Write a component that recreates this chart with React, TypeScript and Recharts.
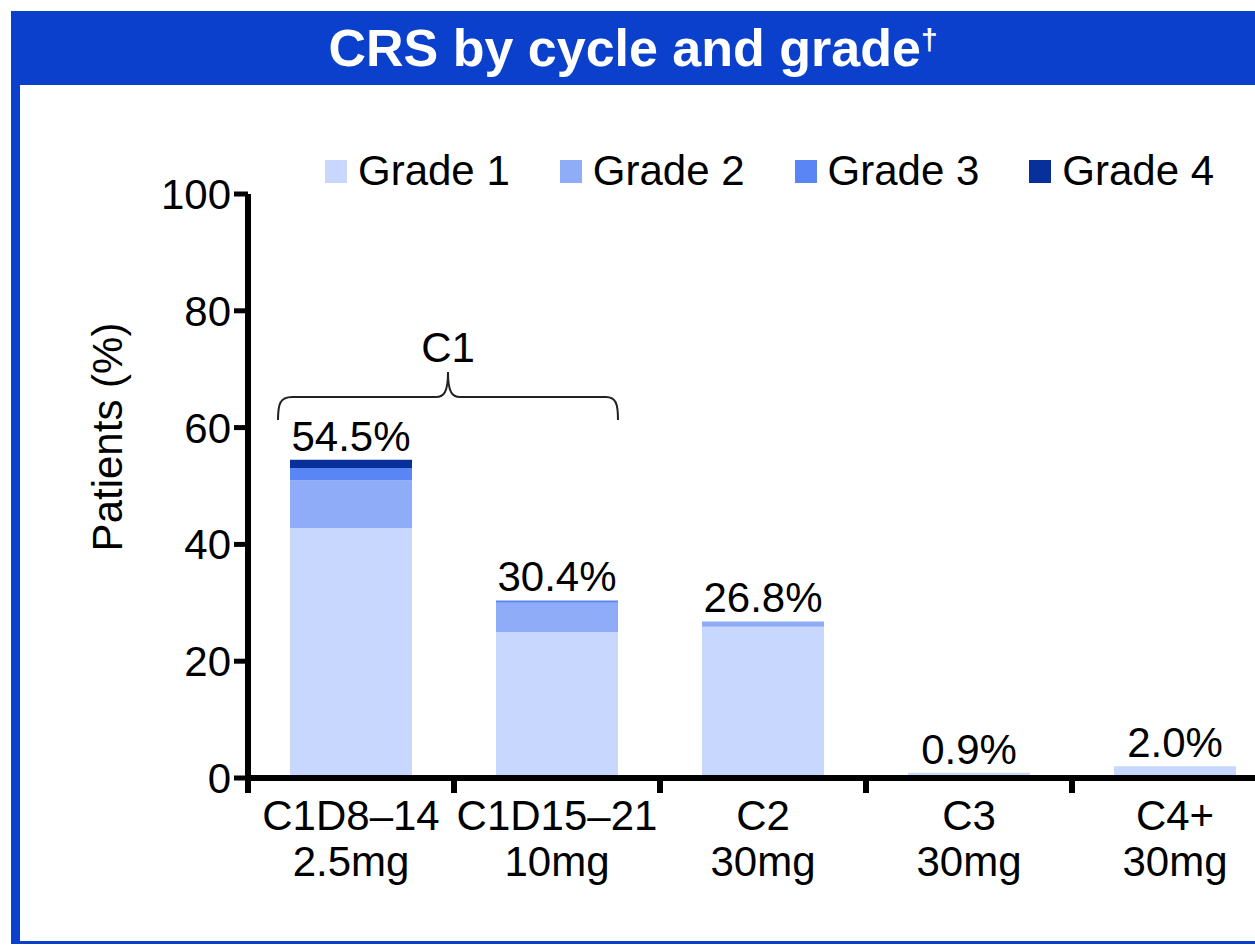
import React from "react";
import { Bar, BarChart, LabelList, XAxis, YAxis } from "recharts";

const FONT = '"Liberation Sans", Arial, sans-serif';

const cycles = ["C1D8–14", "C1D15–21", "C2", "C3", "C4+"];
const doses = ["2.5mg", "10mg", "30mg", "30mg", "30mg"];
const grade1 = [42.8, 25.0, 25.9, 0.9, 2.0];
const grade2 = [8.2, 5.0, 0.9, 0, 0];
const grade3 = [2.1, 0.4, 0, 0, 0];
const grade4 = [1.4, 0, 0, 0, 0];
const totals = [54.5, 30.4, 26.8, 0.9, 2.0];
const yTicks = [0, 20, 40, 60, 80, 100];

const grades = [
  { key: "g1", name: "Grade 1", color: "#C8D7FD" },
  { key: "g2", name: "Grade 2", color: "#8FACF8" },
  { key: "g3", name: "Grade 3", color: "#5A85F4" },
  { key: "g4", name: "Grade 4", color: "#08309A" },
];
const gradeValues = [grade1, grade2, grade3, grade4];

const rows = cycles.map((c, i) => ({
  cycle: c,
  g1: grade1[i],
  g2: grade2[i],
  g3: grade3[i],
  g4: grade4[i],
}));

// which grade is the top visible segment of each bar (gets the total label)
const topGrade = cycles.map((_, i) => {
  let top = 0;
  gradeValues.forEach((vals, g) => {
    if (vals[i] > 0) top = g;
  });
  return top;
});

const BLUE = "#0B40CC";
const CHART_W = 1300;
const PLOT_LEFT = 248;
const PLOT_RIGHT_MARGIN = 22;
const BAND = (CHART_W - PLOT_LEFT - PLOT_RIGHT_MARGIN) / cycles.length;

function CycleTick(props: any) {
  const { x, y, payload } = props;
  return (
    <text textAnchor="middle" fontSize={42} fill="#000" fontFamily={FONT}>
      <tspan x={x} y={y + 52}>
        {payload.value}
      </tspan>
      <tspan x={x} y={y + 98}>
        {doses[payload.index]}
      </tspan>
    </text>
  );
}

function makeTotalLabel(grade: number) {
  return function TotalLabel(props: any) {
    const { x, y, width, index } = props;
    if (topGrade[index] !== grade) return null;
    return (
      <text
        x={x + width / 2}
        y={y - 9}
        textAnchor="middle"
        fontSize={42}
        fill="#000"
        fontFamily={FONT}
      >
        {totals[index].toFixed(1)}%
      </text>
    );
  };
}

export default function App() {
  return (
    <div
      style={{
        position: "absolute",
        left: 0,
        top: 0,
        width: 1255,
        height: 946,
        overflow: "hidden",
        background: "#fff",
        fontFamily: FONT,
      }}
    >
      {/* frame + title bar */}
      <div
        style={{
          position: "absolute",
          left: 11,
          top: 11,
          width: 1260,
          height: 933,
          background: BLUE,
        }}
      />
      <div
        style={{
          position: "absolute",
          left: 20,
          top: 85,
          width: 1260,
          height: 856,
          background: "#fff",
        }}
      />
      <div
        style={{
          position: "absolute",
          left: 11,
          top: 11,
          width: 1244,
          height: 74,
          lineHeight: "74px",
          textAlign: "center",
          color: "#fff",
          fontWeight: "bold",
          fontSize: 52,
          whiteSpace: "nowrap",
        }}
      >
        CRS by cycle and grade
        <span style={{ fontSize: 30, position: "relative", top: -16 }}>†</span>
      </div>

      <div style={{ position: "absolute", left: 0, top: 0 }}>
        <BarChart
          width={CHART_W}
          height={946}
          data={rows}
          margin={{ top: 194, right: PLOT_RIGHT_MARGIN, bottom: 166, left: 0 }}
        >
          <XAxis
            xAxisId="cat"
            dataKey="cycle"
            height={1}
            interval={0}
            tickLine={false}
            tickSize={0}
            tickMargin={0}
            axisLine={{ stroke: "#000", strokeWidth: 6 }}
            tick={<CycleTick />}
          />
          {/* tick marks at the left edge of each category */}
          <XAxis
            xAxisId="edge"
            dataKey="cycle"
            scale="point"
            padding={{ left: 0, right: BAND }}
            interval={0}
            tickFormatter={() => ""}
            axisLine={false}
            tickLine={{ stroke: "#000", strokeWidth: 6 }}
            tickSize={14}
            height={1}
          />
          <YAxis
            width={PLOT_LEFT}
            domain={[0, 100]}
            ticks={yTicks}
            interval={0}
            axisLine={{ stroke: "#000", strokeWidth: 6 }}
            tickLine={{ stroke: "#000", strokeWidth: 5 }}
            tickSize={14}
            tickMargin={3}
            tick={{ fontSize: 42, fill: "#000", fontFamily: FONT }}
          />
          {grades.map((g, i) => {
            const Lbl = makeTotalLabel(i);
            return (
              <Bar
                key={g.key}
                xAxisId="cat"
                dataKey={g.key}
                name={g.name}
                stackId="crs"
                fill={g.color}
                barSize={122}
                isAnimationActive={false}
              >
                <LabelList dataKey={g.key} content={<Lbl />} />
              </Bar>
            );
          })}
        </BarChart>
      </div>

      {/* legend */}
      <div
        style={{
          position: "absolute",
          left: 325,
          top: 150,
          display: "flex",
          alignItems: "center",
          fontSize: 42,
          lineHeight: "42px",
          color: "#000",
          whiteSpace: "nowrap",
        }}
      >
        {grades.map((g) => (
          <div
            key={g.key}
            style={{ display: "flex", alignItems: "center", marginRight: 50 }}
          >
            <span
              style={{
                display: "inline-block",
                width: 22,
                height: 23,
                background: g.color,
                marginRight: 11,
              }}
            />
            <span>{g.name}</span>
          </div>
        ))}
      </div>

      {/* y label, C1 brace */}
      <svg
        width={1255}
        height={946}
        style={{ position: "absolute", left: 0, top: 0, pointerEvents: "none" }}
      >
        <text
          transform="translate(122,437) rotate(-90)"
          textAnchor="middle"
          fontSize={42}
          fill="#000"
          fontFamily={FONT}
        >
          Patients (%)
        </text>
        <path
          d="M278,420 C278,404 280,397 292,397 L436,397 C444,397 448,392 448,372 C448,392 452,397 460,397 L606,397 C616,397 618,404 618,420"
          fill="none"
          stroke="#222"
          strokeWidth={2}
        />
        <text
          x={448}
          y={362}
          textAnchor="middle"
          fontSize={42}
          fill="#000"
          fontFamily={FONT}
        >
          C1
        </text>
      </svg>
    </div>
  );
}
